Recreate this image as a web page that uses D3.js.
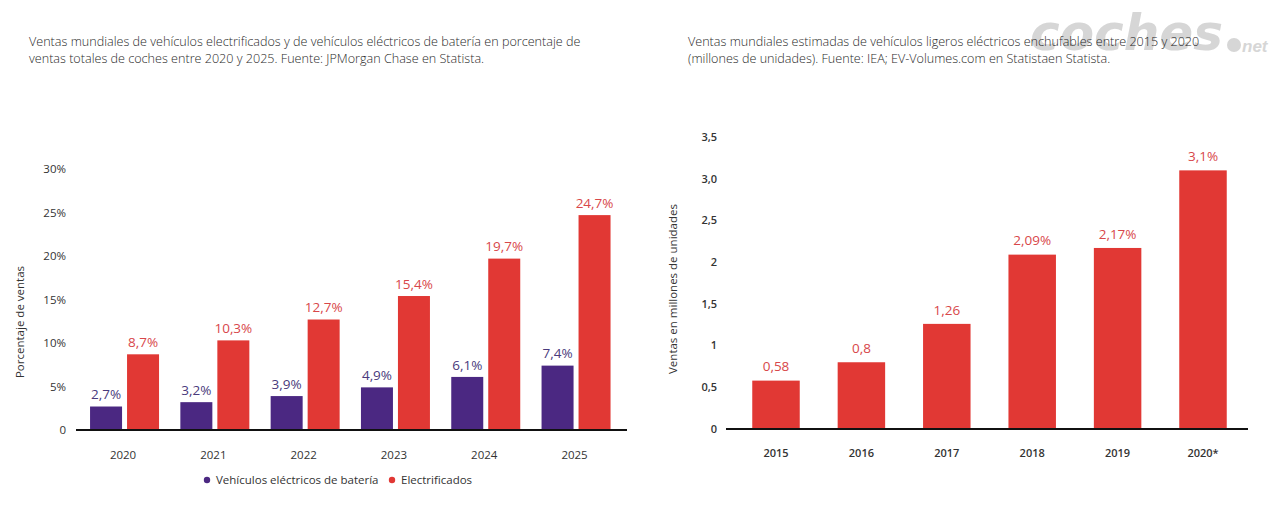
<!DOCTYPE html>
<html><head><meta charset="utf-8">
<script src="https://cdn.jsdelivr.net/npm/d3@7"></script>
<style>
body{margin:0;background:#fff;}
svg{display:block;font-family:"Open Sans",Lato,sans-serif;}
</style></head>
<body><svg id="c" width="1280" height="517"></svg>
<script>
// ---- Left chart data ----
const leftYears = ["2020","2021","2022","2023","2024","2025"];
const bevValues = [2.7, 3.2, 3.9, 4.9, 6.1, 7.4];
const electrifiedValues = [8.7, 10.3, 12.7, 15.4, 19.7, 24.7];
const bevLabels = ["2,7%","3,2%","3,9%","4,9%","6,1%","7,4%"];
const electrifiedLabels = ["8,7%","10,3%","12,7%","15,4%","19,7%","24,7%"];
const leftTicks = [0,5,10,15,20,25,30];
const leftTickLabels = ["0","5%","10%","15%","20%","25%","30%"];
const seriesNames = ["Vehículos eléctricos de batería","Electrificados"];

// ---- Right chart data ----
const rightYears = ["2015","2016","2017","2018","2019","2020*"];
const rightValues = [0.58, 0.8, 1.26, 2.09, 2.17, 3.1];
const rightLabels = ["0,58","0,8","1,26","2,09%","2,17%","3,1%"];
const rightTicks = [0,0.5,1,1.5,2,2.5,3,3.5];
const rightTickLabels = ["0","0,5","1","1,5","2","2,5","3,0","3,5"];

const RED = "#e13834", PURPLE = "#4b2882";
const RED_TXT = "#d8474a", PURPLE_TXT = "#4a3a7c", TXT = "#333";

const svg = d3.select("#c");

// watermark
const wm = svg.append("g").attr("fill","#d2d2d2").attr("opacity",0.9)
  .attr("font-weight","bold").attr("font-style","italic");
wm.append("text").attr("x",1030).attr("y",50).attr("font-size",50).attr("letter-spacing",0)
  .attr("font-family","DejaVu Sans, sans-serif").text("coches");
wm.append("circle").attr("cx",1234).attr("cy",45).attr("r",7);
wm.append("text").attr("x",1242).attr("y",52).attr("font-size",17)
  .attr("font-family","Liberation Sans, Arial, sans-serif").text("net");

// titles
function title(x, lines){
  const t = svg.append("text").attr("x",x).attr("y",46).attr("font-size",12.6).attr("fill","#2a2a2a").attr("font-weight",300);
  lines.forEach((l,i)=>t.append("tspan").attr("x",x).attr("dy",i?16.5:0).text(l));
}
title(29,["Ventas mundiales de vehículos electrificados y de vehículos eléctricos de batería en porcentaje de",
          "ventas totales de coches entre 2020 y 2025. Fuente: JPMorgan Chase en Statista."]);
title(688,["Ventas mundiales estimadas de vehículos ligeros eléctricos enchufables entre 2015 y 2020",
           "(millones de unidades). Fuente: IEA; EV-Volumes.com en Statistaen Statista."]);

// ---- Left chart ----
const yL = d3.scaleLinear().domain([0,30]).range([430,169]);
const xL = d3.scaleBand().domain(leftYears).range([79.4,621.2]).paddingInner(0.236).paddingOuter(0.118);
const xS = d3.scaleBand().domain(seriesNames).range([0,xL.bandwidth()]).paddingInner(0.135);

const gL = svg.append("g");
gL.selectAll(".tl").data(leftTicks).join("text")
  .attr("x",66).attr("y",d=>yL(d)).attr("dy","0.35em").attr("text-anchor","end")
  .attr("font-size",11.5).attr("fill",TXT).text((d,i)=>leftTickLabels[i]);

const seriesL = [
  {name:seriesNames[0], vals:bevValues, labels:bevLabels, fill:PURPLE, tc:PURPLE_TXT},
  {name:seriesNames[1], vals:electrifiedValues, labels:electrifiedLabels, fill:RED, tc:RED_TXT}
];
seriesL.forEach(s=>{
  gL.selectAll(null).data(leftYears).join("rect")
    .attr("x",(d)=>xL(d)+xS(s.name)).attr("width",xS.bandwidth())
    .attr("y",(d,i)=>yL(s.vals[i])).attr("height",(d,i)=>yL(0)-yL(s.vals[i]))
    .attr("fill",s.fill);
  gL.selectAll(null).data(leftYears).join("text")
    .attr("x",(d)=>xL(d)+xS(s.name)+xS.bandwidth()/2).attr("y",(d,i)=>yL(s.vals[i])-12)
    .attr("dy","0.35em").attr("text-anchor","middle").attr("font-size",13.5).attr("fill",s.tc)
    .text((d,i)=>s.labels[i]);
});
gL.append("line").attr("x1",76).attr("x2",627).attr("y1",430).attr("y2",430).attr("stroke","#111").attr("stroke-width",2);
gL.selectAll(".yr").data(leftYears).join("text")
  .attr("x",d=>xL(d)+xL.bandwidth()/2-1.5).attr("y",455).attr("dy","0.35em").attr("text-anchor","middle")
  .attr("font-size",11.5).attr("fill",TXT).text(d=>d);
gL.append("text").attr("transform","translate(24,322) rotate(-90)").attr("text-anchor","middle")
  .attr("font-size",11.5).attr("fill",TXT).text("Porcentaje de ventas");

// legend
const leg = gL.append("g");
const legPos = [{cx:207,tx:216},{cx:392,tx:401}];
seriesL.forEach((s,i)=>{
  leg.append("circle").attr("cx",legPos[i].cx).attr("cy",480).attr("r",3.2).attr("fill",s.fill);
  leg.append("text").attr("x",legPos[i].tx).attr("y",480).attr("dy","0.35em").attr("font-size",11.5)
    .attr("fill",TXT).text(s.name);
});

// ---- Right chart ----
const yR = d3.scaleLinear().domain([0,3.5]).range([429,137]);
const xR = d3.scaleBand().domain(rightYears).range([733.3,1245.7]).paddingInner(0.444).paddingOuter(0.222);
const gR = svg.append("g");
gR.selectAll(".tr").data(rightTicks).join("text")
  .attr("x",717).attr("y",d=>yR(d)).attr("dy","0.35em").attr("text-anchor","end")
  .attr("font-size",11).attr("font-weight",600).attr("fill",TXT).text((d,i)=>rightTickLabels[i]);
gR.selectAll("rect").data(rightYears).join("rect")
  .attr("x",d=>xR(d)).attr("width",xR.bandwidth())
  .attr("y",(d,i)=>yR(rightValues[i])).attr("height",(d,i)=>yR(0)-yR(rightValues[i]))
  .attr("fill",RED);
gR.selectAll(".vl").data(rightYears).join("text")
  .attr("x",d=>xR(d)+xR.bandwidth()/2).attr("y",(d,i)=>yR(rightValues[i])-14)
  .attr("dy","0.35em").attr("text-anchor","middle").attr("font-size",13.5).attr("fill",RED_TXT)
  .text((d,i)=>rightLabels[i]);
gR.append("line").attr("x1",726).attr("x2",1248).attr("y1",429).attr("y2",429).attr("stroke","#111").attr("stroke-width",2);
gR.selectAll(".yr").data(rightYears).join("text")
  .attr("x",d=>xR(d)+xR.bandwidth()/2).attr("y",453).attr("dy","0.35em").attr("text-anchor","middle")
  .attr("font-size",11).attr("font-weight",600).attr("fill",TXT).text(d=>d);
gR.append("text").attr("transform","translate(677,289) rotate(-90)").attr("text-anchor","middle")
  .attr("font-size",11.5).attr("fill",TXT).text("Ventas en millones de unidades");
</script></body></html>
